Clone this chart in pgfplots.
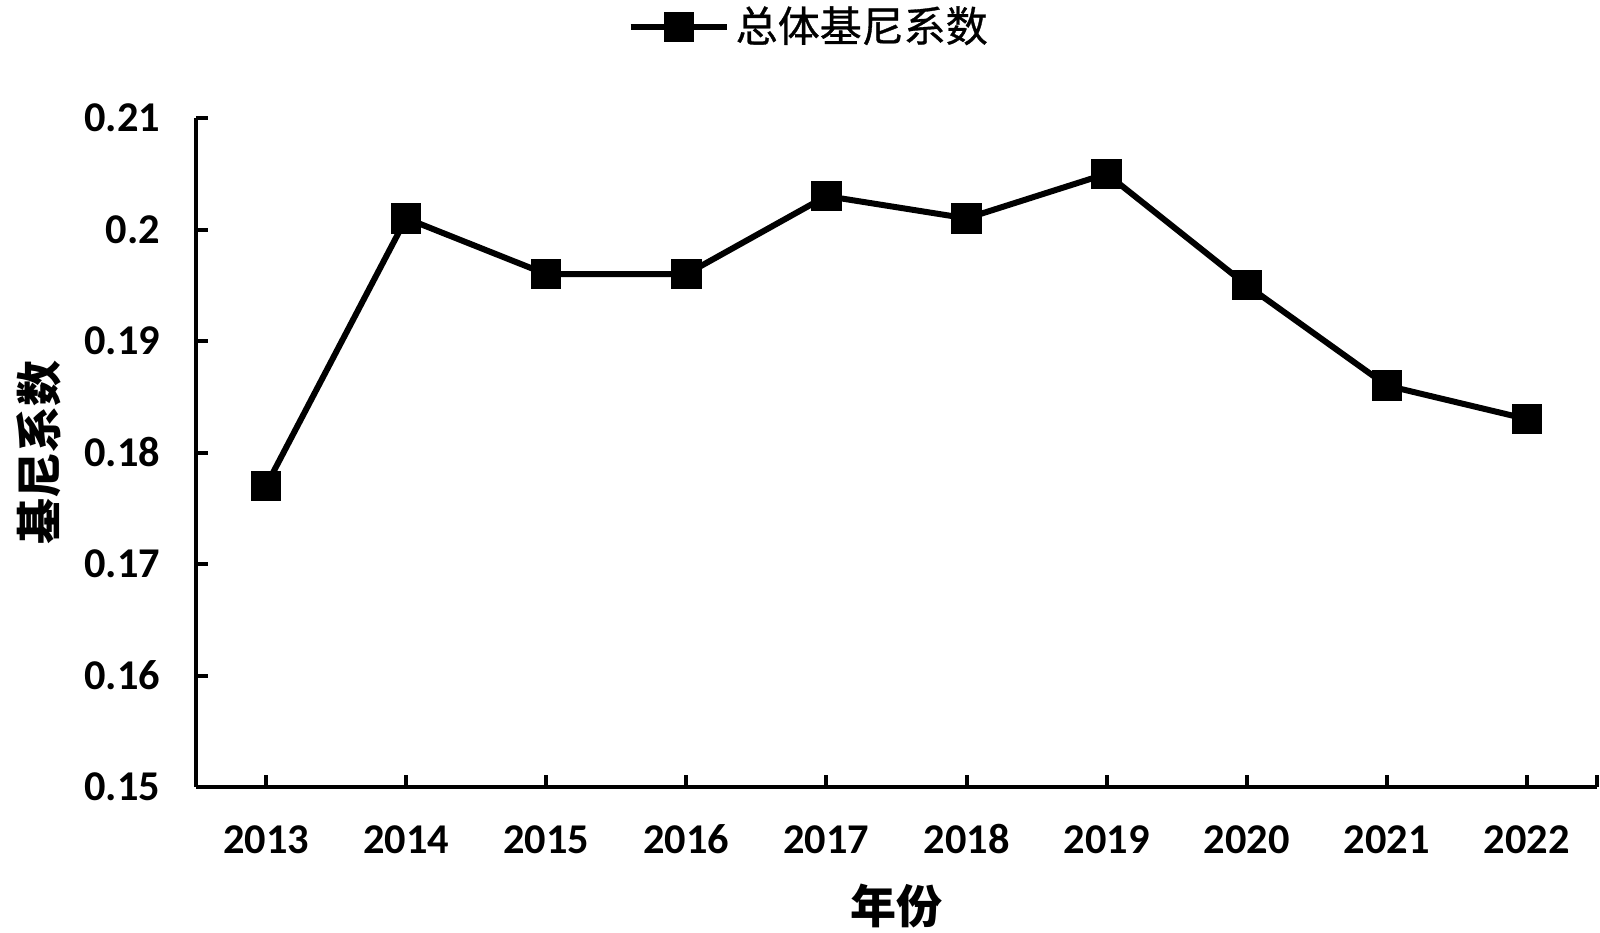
\documentclass[border=0pt]{standalone}
\usepackage{fontspec}
\setmainfont{Carlito}
\newfontfamily\cjk{Noto Sans CJK SC}
\newfontfamily\cjkm{Noto Sans CJK SC}[FakeBold=0.8]
\usepackage{pgfplots}
\pgfplotsset{compat=1.18}
\begin{document}
\begin{tikzpicture}
\begin{axis}[
  scale only axis, width=350.25bp, height=167.25bp,
  xmin=-0.5, xmax=9.5, ymin=0.15, ymax=0.21,
  axis lines=left,
  axis line style={-, line width=1bp, black},
  xtick={0,1,2,3,4,5,6,7,8,9},
  xticklabels={2013,2014,2015,2016,2017,2018,2019,2020,2021,2022},
  extra x ticks={9.5}, extra x tick labels={},
  ytick={0.15,0.16,0.17,0.18,0.19,0.2,0.21},
  yticklabels={0.15,0.16,0.17,0.18,0.19,0.2,0.21},
  tick align=inside, major tick length=3bp,
  tick style={line width=1bp, black},
  /pgf/number format/assume math mode=true,
  tick label style={font=\fontsize{10.6bp}{12bp}\selectfont\bfseries, inner sep=0pt},
  yticklabel style={anchor=east, xshift=-8.75bp},
  xticklabel style={anchor=north, yshift=-9.6bp, text height=6.9bp, text depth=0bp},
  xlabel={年份}, ylabel={基尼系数},
  label style={font=\cjk\bfseries\fontsize{11.5bp}{13bp}\selectfont, inner sep=0pt},
  xlabel style={at={(axis description cs:0.5,0)}, anchor=center, yshift=-29.75bp},
  ylabel style={at={(axis description cs:0,0.5)}, anchor=center, yshift=39.25bp},
  legend style={at={(axis description cs:0.3076,1)}, anchor=west, yshift=22.75bp,
    draw=none, fill=none, inner sep=0pt, nodes={inner sep=1.5bp},
    font=\cjkm\fontsize{10.5bp}{12bp}\selectfont},
  legend image code/.code={\draw[mark repeat=2,mark phase=2,#1] plot coordinates {(0bp,0bp) (12bp,0bp) (24bp,0bp)};},
  clip=false,
]
\addplot[black, line width=1.5bp, mark=square*, mark size=3.05bp,
  mark options={solid, rounded corners=0.6bp}]
  coordinates {(0,0.177) (1,0.201) (2,0.196) (3,0.196) (4,0.203) (5,0.201) (6,0.205) (7,0.195) (8,0.186) (9,0.183)};
\addlegendentry{总体基尼系数}
\end{axis}
\path (current axis.south west) ++(-49bp,-36.5bp) coordinate (bbsw);
\path (current axis.south west) ++(351bp,196.75bp) coordinate (bbne);
\useasboundingbox (bbsw) rectangle (bbne);
\end{tikzpicture}
\end{document}
